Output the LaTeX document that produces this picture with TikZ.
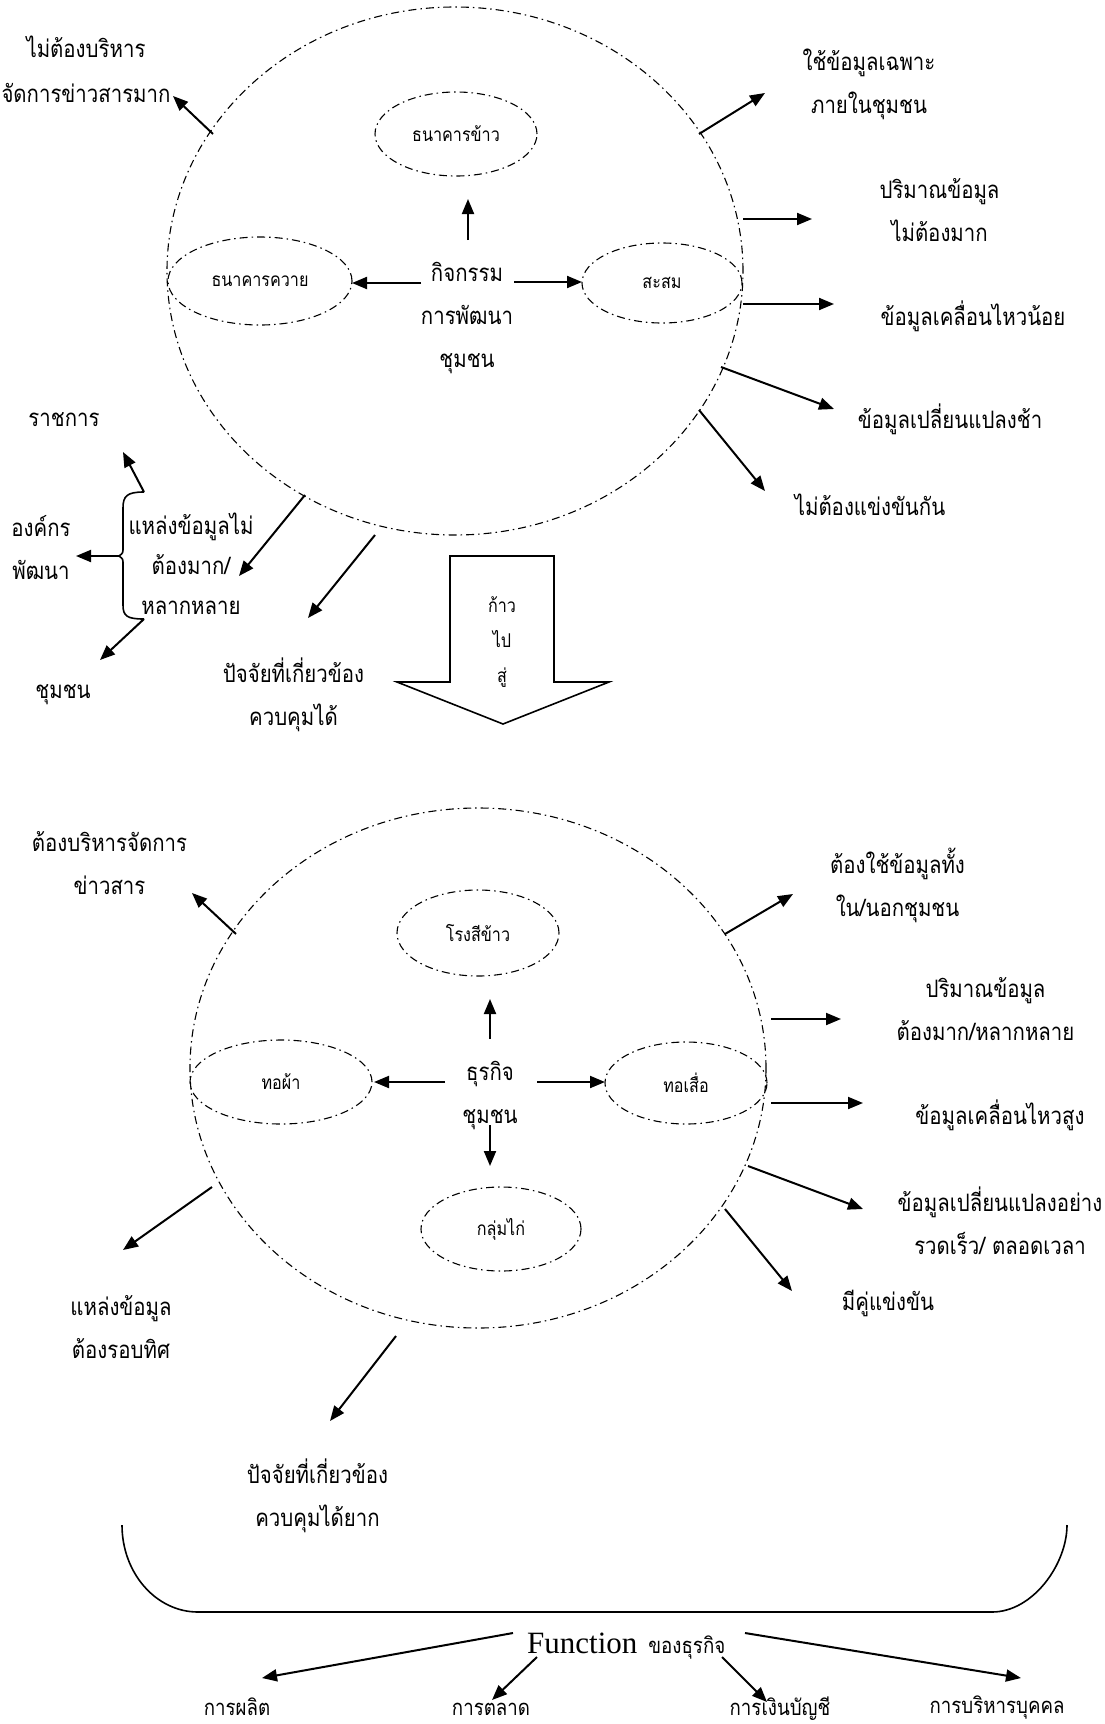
\documentclass[tikz,border=0pt]{standalone}
\usepackage{fontspec}
\newfontfamily\thaifont[Script=Thai,FakeStretch=0.85]{Loma}
\newfontfamily\latfont{Liberation Serif}
\usetikzlibrary{arrows.meta,shapes.geometric}
\newcommand\thmain{\thaifont\fontsize{24}{43}\selectfont}
\newcommand\thmid{\thaifont\fontsize{22}{40}\selectfont}
\newcommand\thsmall{\thaifont\fontsize{19}{35}\selectfont}
\begin{document}
\begin{tikzpicture}[x=1pt,y=-1pt,
  dd/.style={dash pattern=on 8pt off 4pt on 1.5pt off 4pt, line width=1.1pt},
  arr/.style={line width=2pt,-{Triangle[length=15pt,width=12pt]}},
  lbl/.style={font=\thmain,align=center,inner sep=0pt},
  mlbl/.style={font=\thmid,align=center,inner sep=0pt},
  slbl/.style={font=\thsmall,align=center,inner sep=0pt},
  ell/.style={ellipse,draw,dd,inner sep=0pt,font=\thsmall},
  bigc/.style={ellipse,draw,dd,inner sep=0pt}]
\useasboundingbox (0,0) rectangle (1104,1724);
\fill[white] (0,0) rectangle (1104,1724);

% ================= upper circle =================
\node[bigc,minimum width=576pt,minimum height=528pt] (C1) at (455,271) {};
\node[ell,minimum width=162pt,minimum height=84pt] (E1a) at (456,134) {ธนาคารข้าว};
\node[ell,minimum width=184pt,minimum height=88pt] (E1b) at (260,281) {ธนาคารควาย};
\node[ell,minimum width=160pt,minimum height=80pt] (E1c) at (662,283) {สะสม};
\node[lbl] (K1) at (467,318) {กิจกรรม\\การพัฒนา\\ชุมชน};

\coordinate (k1u) at (468,240); \coordinate (k1ut) at (468,199);
\coordinate (k1l) at (421,283); \coordinate (k1lt) at (352,283);
\coordinate (k1r) at (514,282); \coordinate (k1rt) at (582,282);
\draw[arr] (k1u) -- (k1ut);
\draw[arr] (k1l) -- (k1lt);
\draw[arr] (k1r) -- (k1rt);

% spokes
\coordinate (a1) at (213,134); \coordinate (a1t) at (173,96);
\coordinate (a2) at (699,134); \coordinate (a2t) at (765,93);
\coordinate (a3) at (743,219); \coordinate (a3t) at (812,219);
\coordinate (a4) at (743,304); \coordinate (a4t) at (834,304);
\coordinate (a5) at (721,367); \coordinate (a5t) at (834,409);
\coordinate (a6) at (699,410); \coordinate (a6t) at (765,491);
\coordinate (a7) at (305,495); \coordinate (a7t) at (239,576);
\coordinate (a8) at (375,535); \coordinate (a8t) at (308,618);
\foreach \p in {a1,a2,a3,a4,a5,a6,a7,a8} \draw[arr] (\p) -- (\p t);

\node[lbl,font=\thaifont\fontsize{24}{45}\selectfont] (L1) at (86,69) {ไม่ต้องบริหาร\\จัดการข่าวสารมาก};
\node[lbl] (L2) at (869,84.5) {ใช้ข้อมูลเฉพาะ\\ภายในชุมชน};
\node[lbl] (L3) at (939.5,210.5) {ปริมาณข้อมูล\\ไม่ต้องมาก};
\node[lbl] (L4) at (973,316) {ข้อมูลเคลื่อนไหวน้อย};
\node[lbl] (L5) at (950,419) {ข้อมูลเปลี่ยนแปลงช้า};
\node[lbl] (L6) at (870,505) {ไม่ต้องแข่งขันกัน};
\node[lbl,font=\thaifont\fontsize{24}{40}\selectfont] (L7) at (191,564) {แหล่งข้อมูลไม่\\ต้องมาก/\\หลากหลาย};
\node[lbl] (L8) at (293.5,695) {ปัจจัยที่เกี่ยวข้อง\\ควบคุมได้};

% brace with three sources
\coordinate (bT) at (144,492); \coordinate (bM) at (119,556); \coordinate (bB) at (144,619);
\draw[line width=1.6pt] (bT) .. controls (127,492) and (123,496) .. (123,508) -- (123,548)
   .. controls (123,553) .. (bM) .. controls (123,559) .. (123,564) -- (123,605)
   .. controls (123,616) and (127,619) .. (bB);
\coordinate (bTt) at (123,452); \coordinate (bMt) at (76,556); \coordinate (bBt) at (100,660);
\draw[arr] (bT) -- (bTt);
\draw[arr] (bM) -- (bMt);
\draw[arr] (bB) -- (bBt);
\node[lbl] (S1) at (64,420) {ราชการ};
\node[lbl] (S2) at (41,547.5) {องค์กร\\พัฒนา};
\node[lbl] (S3) at (63,695) {ชุมชน};

% big down arrow
\draw[line width=1.6pt] (450,556) -- (554,556) -- (554,682) -- (609,682) -- (503,724)
   -- (397,682) -- (450,682) -- cycle;
\node[slbl] (G) at (502,642.5) {ก้าว\\ไป\\สู่};

% ================= lower circle =================
\node[bigc,minimum width=576pt,minimum height=520pt] (C2) at (478,1068) {};
\node[ell,minimum width=162pt,minimum height=86pt] (E2a) at (478,933) {โรงสีข้าว};
\node[ell,minimum width=182pt,minimum height=84pt] (E2b) at (281,1082) {ทอผ้า};
\node[ell,minimum width=162pt,minimum height=82pt] (E2c) at (686,1083) {ทอเสื่อ};
\node[ell,minimum width=160pt,minimum height=84pt] (E2d) at (501,1229) {กลุ่มไก่};
\node[lbl] (K2) at (490,1095) {ธุรกิจ\\ชุมชน};

\coordinate (k2u) at (490,1039); \coordinate (k2ut) at (490,999);
\coordinate (k2l) at (445,1082); \coordinate (k2lt) at (374,1082);
\coordinate (k2r) at (537,1082); \coordinate (k2rt) at (605,1082);
\coordinate (k2d) at (490,1125); \coordinate (k2dt) at (490,1166);
\draw[arr] (k2u) -- (k2ut);
\draw[arr] (k2l) -- (k2lt);
\draw[arr] (k2r) -- (k2rt);
\draw[arr] (k2d) -- (k2dt);

\coordinate (b1) at (236,934); \coordinate (b1t) at (192,893);
\coordinate (b2) at (725,934); \coordinate (b2t) at (793,894);
\coordinate (b3) at (771,1019); \coordinate (b3t) at (841,1019);
\coordinate (b4) at (771,1103); \coordinate (b4t) at (863,1103);
\coordinate (b5) at (748,1166); \coordinate (b5t) at (863,1209);
\coordinate (b6) at (725,1209); \coordinate (b6t) at (792,1291);
\coordinate (b7) at (212,1187); \coordinate (b7t) at (123,1250);
\coordinate (b8) at (396,1336); \coordinate (b8t) at (330,1421);
\foreach \p in {b1,b2,b3,b4,b5,b6,b7,b8} \draw[arr] (\p) -- (\p t);

\node[lbl] (M1) at (109.5,863.5) {ต้องบริหารจัดการ\\ข่าวสาร};
\node[lbl] (M2) at (897.5,885.5) {ต้องใช้ข้อมูลทั้ง\\ใน/นอกชุมชน};
\node[lbl] (M3) at (985.5,1009) {ปริมาณข้อมูล\\ต้องมาก/หลากหลาย};
\node[lbl] (M4) at (1000,1115) {ข้อมูลเคลื่อนไหวสูง};
\node[lbl] (M5) at (1000,1221) {ข้อมูลเปลี่ยนแปลงอย่าง\\รวดเร็ว/ ตลอดเวลา};
\node[lbl] (M6) at (888,1303) {มีคู่แข่งขัน};
\node[lbl] (M7) at (121,1327) {แหล่งข้อมูล\\ต้องรอบทิศ};
\node[lbl] (M8) at (317.5,1496) {ปัจจัยที่เกี่ยวข้อง\\ควบคุมได้ยาก};

% bottom bracket
\draw[line width=1.6pt] (122,1525) .. controls (122,1573) and (156,1612) .. (198,1612)
   -- (992,1612) .. controls (1033,1612) and (1067,1564) .. (1067,1525);

% functions
\node[anchor=base west,inner sep=0pt] (F) at (527,1653)
   {{\latfont\fontsize{31}{36}\selectfont Function}\hspace{11pt}{\thaifont\fontsize{22}{30}\selectfont ของธุรกิจ}};
\coordinate (f1) at (513,1633); \coordinate (f1t) at (262,1678);
\coordinate (f2) at (537,1657); \coordinate (f2t) at (492,1700);
\coordinate (f3) at (722,1657); \coordinate (f3t) at (767,1702);
\coordinate (f4) at (745,1633); \coordinate (f4t) at (1021,1678);
\foreach \p in {f1,f2,f3,f4} \draw[arr] (\p) -- (\p t);
\node[mlbl] (P1) at (237,1707) {การผลิต};
\node[mlbl] (P2) at (491,1709) {การตลาด};
\node[mlbl] (P3) at (780,1709) {การเงินบัญชี};
\node[mlbl] (P4) at (997,1708) {การบริหารบุคคล};
\end{tikzpicture}
\end{document}
